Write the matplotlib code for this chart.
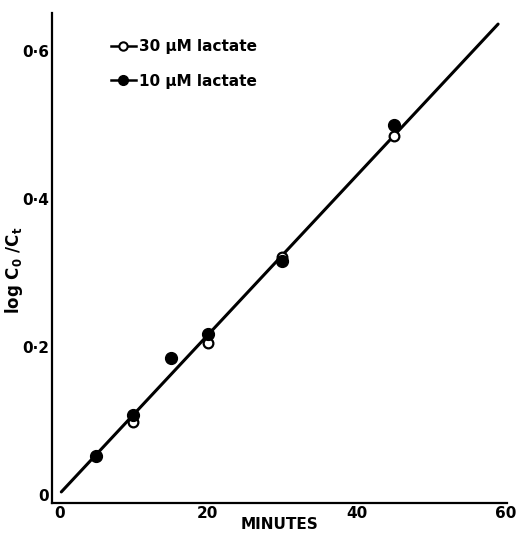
import numpy as np
import matplotlib.pyplot as plt
from matplotlib.lines import Line2D

t_10 = [5, 10, 15, 20, 30, 45]
y_10 = [0.052, 0.108, 0.185, 0.218, 0.316, 0.500]
t_30 = [10, 20, 30, 45]
y_30 = [0.099, 0.205, 0.322, 0.485]
fit_t = [0.3, 59.0]
fit_y = [0.004, 0.636]

xticks = [0, 20, 40, 60]
xlabels = ["0", "20", "40", "60"]
yticks = [0, 0.2, 0.4, 0.6]
ylabels = ["0", "0·2", "0·4", "0·6"]

plt.rcParams['font.family'] = ['DejaVu Sans']
plt.rcParams['font.weight'] = 'bold'

fig = plt.figure(figsize=(5.16, 5.34), dpi=100)
ax = fig.add_axes([0.1008, 0.058, 0.8818, 0.9177])

ax.plot(fit_t, fit_y, color="black", lw=2.2, solid_capstyle="round")
ax.plot(t_30, y_30, "o", color="black", mfc="white", mec="black", ms=7, mew=1.6)
ax.plot(t_10, y_10, "o", color="black", ms=8.5)

ax.set_xlim(-0.95, 60.2)
ax.set_ylim(-0.011, 0.651)
ax.set_xticks(xticks)
ax.set_xticklabels(xlabels)
ax.set_yticks(yticks)
ax.set_yticklabels(ylabels)
ax.tick_params(length=0, labelsize=11, pad=2)
for lab in ax.get_xticklabels() + ax.get_yticklabels():
    lab.set_fontweight('bold')

for s in ["top", "right"]:
    ax.spines[s].set_visible(False)
for s in ["left", "bottom"]:
    ax.spines[s].set_linewidth(1.6)

ax.set_xlabel("MINUTES", fontsize=11, fontweight='bold', labelpad=-3)
ax.set_ylabel("log C$_\\mathbf{0}$ /C$_\\mathbf{t}$", fontsize=12, fontweight='bold')
ax.yaxis.set_label_coords(-0.06, 0.475)

h30 = Line2D([], [], color="black", lw=1.8, marker="o", mfc="white", mec="black", ms=6, mew=1.5)
h10 = Line2D([], [], color="black", lw=1.8, marker="o", ms=7)
ax.legend([h30, h10], ["30 µM lactate", "10 µM lactate"], loc="upper left",
          bbox_to_anchor=(0.1, 0.975), frameon=False, handlelength=1.6,
          handletextpad=0.2, labelspacing=1.3, prop={'size': 11, 'weight': 'bold'})

plt.savefig("out.png", dpi=100)
